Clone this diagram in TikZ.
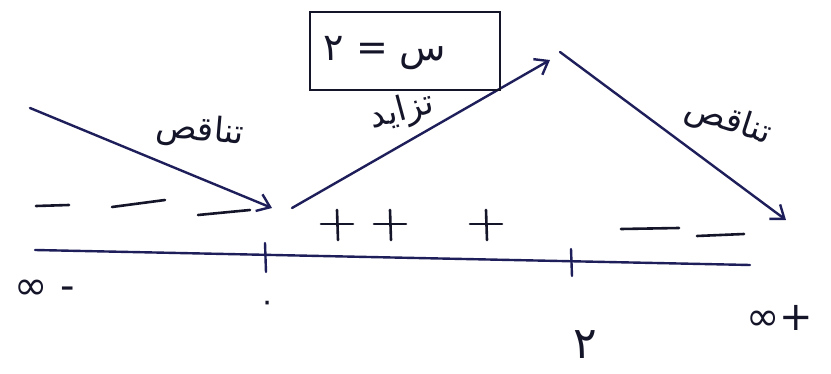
\documentclass[tikz,border=0pt]{standalone}
\usepackage{fontspec}
\newfontfamily\arabicfont[Script=Arabic]{DejaVu Sans}
\newfontfamily\symfont{DejaVu Sans}
\TeXXeTstate=1
\usetikzlibrary{arrows.meta}
\definecolor{ink}{HTML}{1E1E5A}
\definecolor{inkdark}{HTML}{15152A}
\tikzset{
  pen/.style={draw=ink, line width=2.4pt, line cap=round},
  arr/.style={pen, -{Straight Barb[length=12pt,width=18pt,line width=2.4pt]}},
  sgn/.style={draw=inkdark, line width=2.6pt, line cap=round},
  lbl/.style={text=inkdark, font=\arabicfont\fontsize{34}{36}\selectfont, inner sep=0pt},
  num/.style={text=inkdark, font=\arabicfont\fontsize{44}{46}\selectfont, inner sep=0pt},
  inf/.style={text=inkdark, font=\symfont\fontsize{40}{42}\selectfont, inner sep=0pt},
}
\begin{document}
\begin{tikzpicture}[x=1pt,y=-1pt]
\useasboundingbox[fill=white] (0,0) rectangle (831,374);
% axis
\coordinate (axL) at (35,250);
\coordinate (axR) at (750,265);
\draw[pen] (axL) -- (axR);
\coordinate (t0a) at (265,243); \coordinate (t0b) at (266,272);
\coordinate (t2a) at (571,249); \coordinate (t2b) at (572,276);
\draw[pen] (t0a) -- (t0b);
\draw[pen] (t2a) -- (t2b);
% axis labels
\node[inf] (minf) at (45,290) {∞ -};
\node[num, font=\arabicfont\fontsize{30}{32}\selectfont] (zero) at (268,306) {\beginR ٠\endR};
\node[num] (two) at (585,345) {\beginR ٢\endR};
\node[inf] (pinf) at (780,318) {∞+};
% minus signs left
\coordinate (m1a) at (36,206); \coordinate (m1b) at (69,205);
\coordinate (m2a) at (112,207); \coordinate (m2b) at (165,200);
\coordinate (m3a) at (198,215); \coordinate (m3b) at (250,210);
\draw[sgn] (m1a) -- (m1b);
\draw[sgn] (m2a) -- (m2b);
\draw[sgn] (m3a) -- (m3b);
% plus signs
\foreach \x/\n in {337/p1,390/p2,486/p3}{
  \coordinate (\n h1) at (\x-16,224); \coordinate (\n h2) at (\x+16,224);
  \coordinate (\n v1) at (\x,210); \coordinate (\n v2) at (\x+1,240);
  \draw[sgn] (\n h1) -- (\n h2);
  \draw[sgn] (\n v1) -- (\n v2);
}
% minus signs right
\coordinate (m4a) at (621,229); \coordinate (m4b) at (679,228);
\coordinate (m5a) at (697,236); \coordinate (m5b) at (744,234);
\draw[sgn] (m4a) -- (m4b);
\draw[sgn] (m5a) -- (m5b);
% arrows
\coordinate (a1s) at (30,108); \coordinate (a1e) at (272,208);
\coordinate (a2s) at (292,208); \coordinate (a2e) at (550,60);
\coordinate (a3s) at (560,52); \coordinate (a3e) at (786,220);
\draw[arr] (a1s) -- (a1e);
\draw[arr] (a2s) -- (a2e);
\draw[arr] (a3s) -- (a3e);
% box
\node[draw=inkdark, line width=2.4pt, minimum width=190pt, minimum height=78pt, inner sep=0pt] (box) at (405,51) {};
\node[text=inkdark, font=\arabicfont\fontsize{38}{40}\selectfont, inner sep=0pt] (eq) at (385,53) {\beginR س = ٢\endR};
% labels
\node[lbl, rotate=-5] (dec1) at (200,132) {\beginR تناقص\endR};
\node[lbl, rotate=15] (inc) at (402,112) {\beginR تزايد\endR};
\node[lbl, rotate=-18] (dec2) at (728,122) {\beginR تناقص\endR};
\end{tikzpicture}
\end{document}
